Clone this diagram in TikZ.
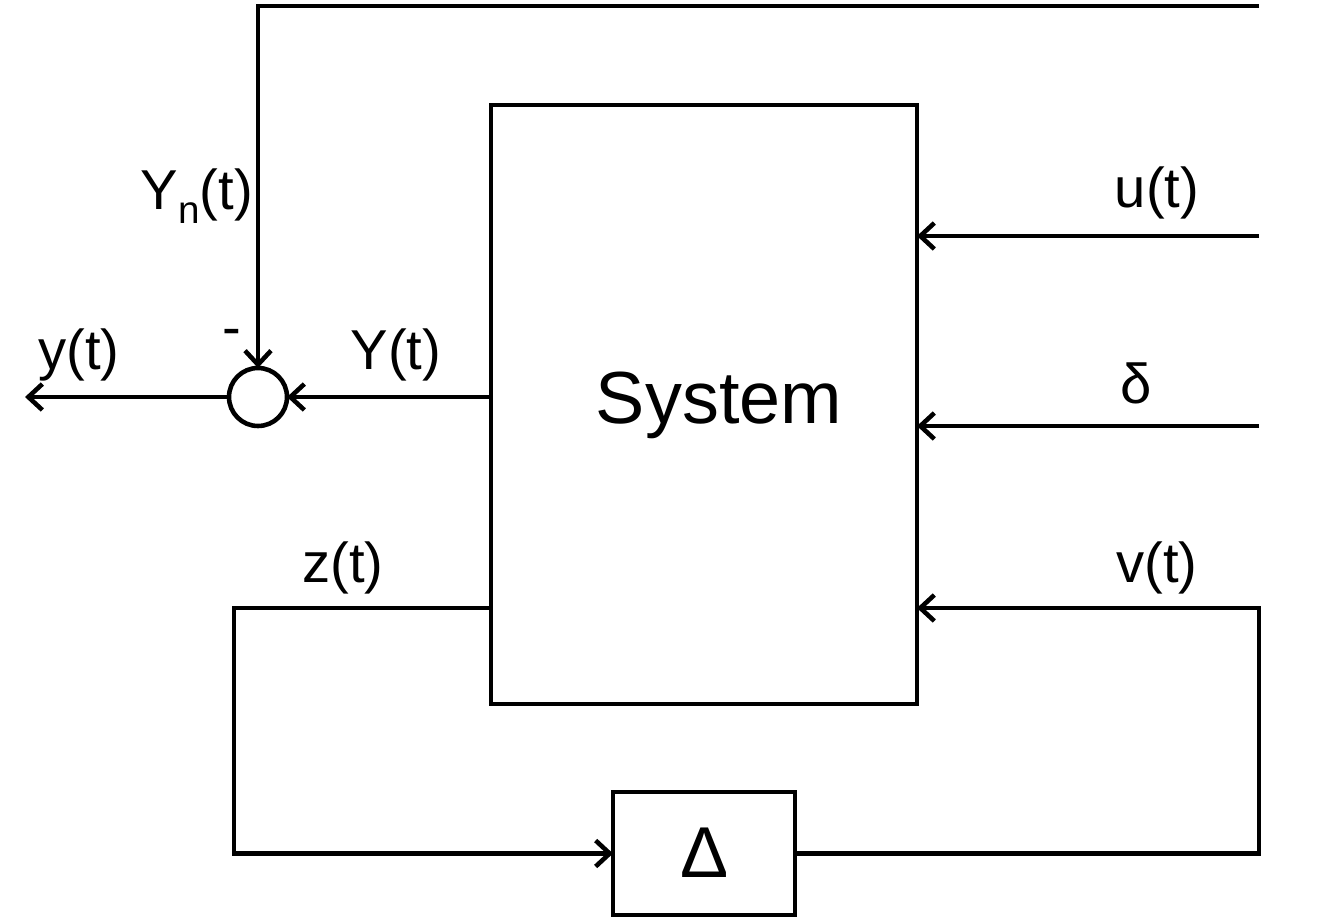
\documentclass[tikz,border=0pt]{standalone}
\usepackage{fontspec}
\setmainfont{Liberation Sans}
\usetikzlibrary{arrows.meta}

\begin{document}
\begin{tikzpicture}[x=0.02cm,y=-0.02cm,line width=2.6pt,
  lbl/.style={inner sep=0pt,font=\fontsize{32}{38}\selectfont},
  blk/.style={draw,inner sep=0pt,outer sep=0pt},
  arr/.style={-{Straight Barb[length=2.8mm,width=5.2mm]}}]
\useasboundingbox (0,0) rectangle (1318,919);
\node[blk,minimum width=8.52cm,minimum height=11.98cm] (sys) at (704,404.5) {};
\node[lbl,font=\fontsize{42}{50}\selectfont] (systxt) at (719,405) {System};
\node[blk,circle,minimum size=1.16cm] (sum) at (258,397) {};
\node[blk,minimum width=3.64cm,minimum height=2.46cm] (del) at (704,853.5) {};
\node[lbl,font=\fontsize{41}{49}\selectfont] (deltxt) at (705,853) {Δ};
\coordinate (ytop) at (258,6);
\coordinate (ntop) at (1259,6);
\coordinate (yout) at (25,397);
\coordinate (uin) at (1259,236);
\coordinate (din) at (1259,426);
\coordinate (vin) at (1259,608);
\coordinate (zc) at (234,608);
\draw[arr] (ntop) -- (ytop) -- (sum.north);
\draw[arr] (sum.west) -- (yout);
\draw[arr] (sys.west |- sum) -- (sum.east);
\draw[arr] (uin) -- (uin -| sys.east);
\draw[arr] (din) -- (din -| sys.east);
\draw[arr] (del.east) -| (vin) -- (vin -| sys.east);
\draw[arr] (sys.west |- zc) -- (zc) |- (del.west);
\node[lbl] (yn) at (197,196) {Y\raisebox{-0.45ex}{\fontsize{22}{26}\selectfont n}(t)};
\node[lbl] (ylbl) at (79,355) {y(t)};
\node[lbl] (minus) at (232,338) {-};
\node[lbl] (Ylbl) at (396,355) {Y(t)};
\node[lbl] (ulbl) at (1157,193) {u(t)};
\node[lbl] (dlbl) at (1136,383) {δ};
\node[lbl] (vlbl) at (1157,568) {v(t)};
\node[lbl] (zlbl) at (343,568) {z(t)};
\end{tikzpicture}
\end{document}
